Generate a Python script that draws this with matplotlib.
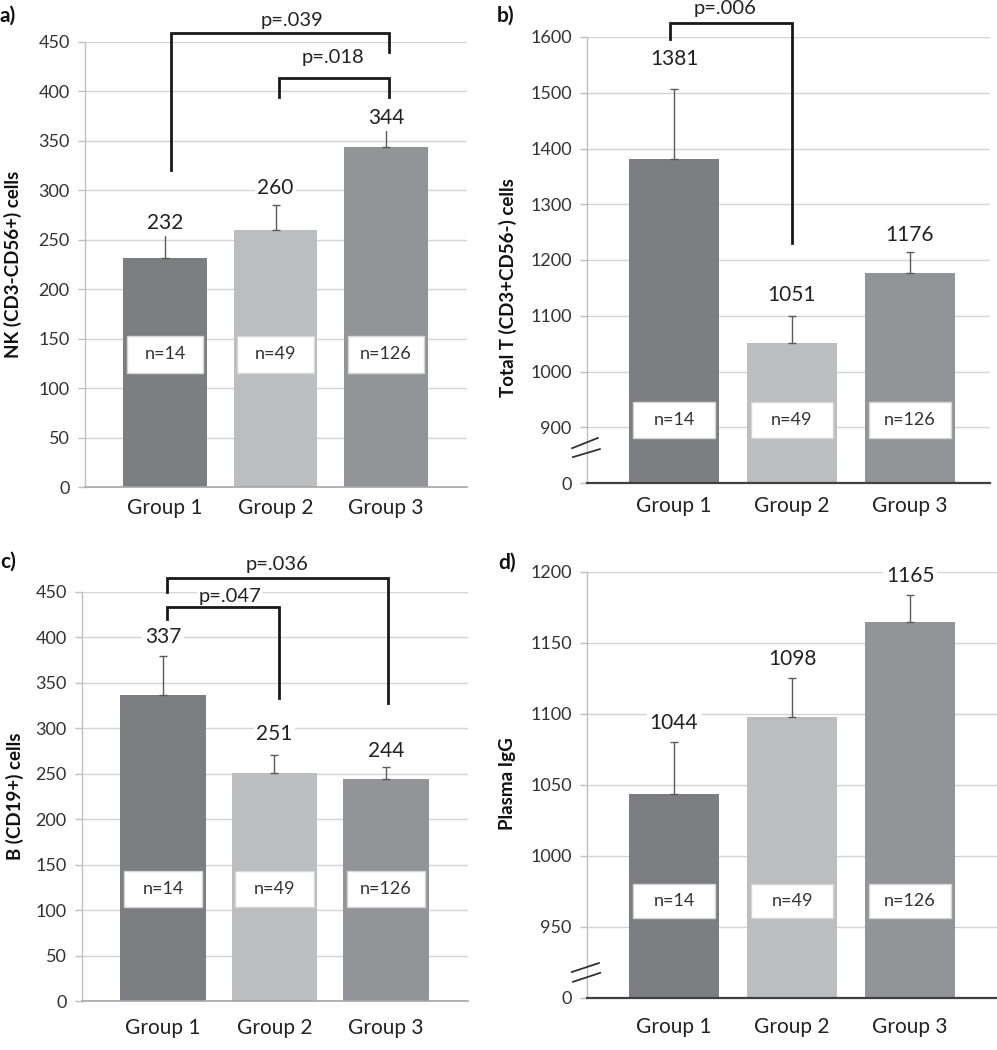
import matplotlib.pyplot as plt
from matplotlib.patches import Rectangle
from matplotlib.lines import Line2D

plt.rcParams['font.family'] = ['Lato', 'DejaVu Sans']

# Data
groups = ["Group 1", "Group 2", "Group 3"]
group_n = ["n=14", "n=49", "n=126"]
bar_colors = ["#7d7e82", "#bcbdbf", "#939498"]

nk_means = [232, 260, 344]
nk_err = [26, 25, 18]

t_means = [1381, 1051, 1176]
t_err = [126, 49, 39]

b_means = [337, 251, 244]
b_err = [43, 20, 13]

igg_means = [1044, 1098, 1165]
igg_err = [36, 27, 19]

W, H = 997, 1050


def fig_rect(x0, y0, x1, y1):
    # pixel box -> figure fraction [left, bottom, width, height]
    return [x0 / W, 1 - y1 / H, (x1 - x0) / W, (y1 - y0) / H]


def draw_panel(fig, p):
    ax = fig.add_axes(fig_rect(*p["box"]))
    x = [0, 1, 2]
    ax.set_axisbelow(True)
    ax.bar(x, p["means"], width=p["bar_w"], color=bar_colors, zorder=2)
    ax.errorbar(x, p["means"], yerr=[[0, 0, 0], p["err"]], fmt="none",
                ecolor="#5a5a5a", elinewidth=1, capsize=3, capthick=1, zorder=3)

    ax.set_xlim(*p["xlim"])
    ax.set_ylim(*p["ylim"])
    ax.set_yticks(p["ticks"])
    ax.set_yticklabels(p["ticklabels"])
    ax.yaxis.grid(True, color="#d4d4d4", lw=1)
    ax.set_xticks(x)
    ax.set_xticklabels(groups)

    for s in ["top", "right"]:
        ax.spines[s].set_visible(False)
    ax.spines["left"].set_color("#bfbfbf")
    ax.spines["left"].set_linewidth(1)
    ax.spines["bottom"].set_color(p["bottom_color"])
    ax.spines["bottom"].set_linewidth(p["bottom_lw"])

    ax.tick_params(axis="y", length=5, color="#bfbfbf", width=1,
                   labelsize=13, labelcolor="#333333", pad=6)
    ax.tick_params(axis="x", length=0, labelsize=15, labelcolor="#222222",
                   pad=p["xpad"])

    # value labels
    for xi, m, ly in zip(x, p["means"], p["label_y"]):
        ax.text(xi, ly, str(m), ha="center", va="center", fontsize=15,
                color="#222222", zorder=4,
                bbox=dict(fc="white", ec="none", pad=2))

    # n= boxes
    bw = p["bar_w"] - 0.07
    y0, y1 = p["nbox"]
    for xi, n in zip(x, group_n):
        ax.add_patch(Rectangle((xi - bw / 2, y0), bw, y1 - y0, fc="white",
                               ec="#d6d6d6", lw=1, zorder=4))
        ax.text(xi, (y0 + y1) / 2, n, ha="center", va="center", fontsize=13,
                color="#333333", zorder=5)

    # significance brackets
    for xl, xr, yt, yl, yr, lab, tx, ty in p["brackets"]:
        ax.plot([xl, xl, xr, xr], [yl, yt, yt, yr], color="#1a1a1a", lw=2,
                clip_on=False, solid_joinstyle="miter", zorder=5)
        ax.text(tx, ty, lab, ha="center", va="center", fontsize=14.5,
                color="#222222", clip_on=False, zorder=6,
                bbox=dict(fc="white", ec="none", pad=1))

    # axis break marks
    for (xa, ya, xb, yb) in p.get("break", []):
        ax.add_line(Line2D([xa, xb], [ya, yb], transform=ax.transAxes,
                           color="#333333", lw=1.3, clip_on=False, zorder=6))

    # y label and panel letter
    lx, ly = p["ylabel_pos"]
    fig.text(lx / W, 1 - ly / H, p["ylabel"], rotation=90, ha="center",
             va="center", fontsize=13.5, fontweight="bold", color="#111111")
    px, py = p["letter_pos"]
    fig.text(px / W, 1 - py / H, p["letter"], ha="left", va="center",
             fontsize=15, fontweight="bold", color="#111111")
    return ax


def main():
    fig = plt.figure(figsize=(W / 100, H / 100), dpi=100)

    panels = [
        dict(box=(85, 42, 467, 487), means=nk_means, err=nk_err, bar_w=0.76,
             xlim=(-0.724, 2.733), ylim=(0, 450),
             ticks=list(range(0, 451, 50)),
             ticklabels=[str(v) for v in range(0, 451, 50)],
             bottom_color="#a6a6a6", bottom_lw=1.2, xpad=8,
             label_y=[267, 302, 373], nbox=(115, 153),
             brackets=[(0.05, 2.03, 459, 321, 440, "p=.039", 1.15, 472),
                       (1.03, 2.03, 413.6, 394, 394, "p=.018", 1.52, 434)],
             ylabel="NK (CD3-CD56+) cells", ylabel_pos=(13, 264),
             letter="a)", letter_pos=(0, 16)),
        dict(box=(587, 37, 990, 483), means=t_means, err=t_err, bar_w=0.77,
             xlim=(-0.737, 2.678), ylim=(800, 1600),
             ticks=list(range(800, 1601, 100)),
             ticklabels=["0"] + [str(v) for v in range(900, 1601, 100)],
             bottom_color="#404040", bottom_lw=1.6, xpad=9,
             label_y=[1561, 1138, 1245], nbox=(880, 946),
             brackets=[(-0.03, 1.0, 1625, 1597, 1231, "p=.006", 0.43, 1651)],
             ylabel="Total T (CD3+CD56-) cells", ylabel_pos=(508, 288),
             letter="b)", letter_pos=(497, 16),
             **{"break": [(-0.037, 0.078, 0.027, 0.101),
                          (-0.035, 0.058, 0.032, 0.076)]}),
        dict(box=(82, 592, 468, 1001), means=b_means, err=b_err, bar_w=0.77,
             xlim=(-0.726, 2.735), ylim=(0, 450),
             ticks=list(range(0, 451, 50)),
             ticklabels=[str(v) for v in range(0, 451, 50)],
             bottom_color="#a6a6a6", bottom_lw=1.2, xpad=12,
             label_y=[400, 294, 275], nbox=(103, 143),
             brackets=[(0.04, 2.02, 465, 450, 328, "p=.036", 1.02, 480),
                       (0.04, 1.04, 433, 420, 333, "p=.047", 0.60, 445)],
             ylabel="B (CD19+) cells", ylabel_pos=(15, 796),
             letter="c)", letter_pos=(0, 562)),
        dict(box=(587, 572, 997, 998), means=igg_means, err=igg_err, bar_w=0.77,
             xlim=(-0.737, 2.737), ylim=(900, 1200),
             ticks=list(range(900, 1201, 50)),
             ticklabels=["0"] + [str(v) for v in range(950, 1201, 50)],
             bottom_color="#404040", bottom_lw=1.6, xpad=14,
             label_y=[1094, 1139, 1197], nbox=(956, 980),
             brackets=[],
             ylabel="Plasma IgG", ylabel_pos=(508, 784),
             letter="d)", letter_pos=(498, 563),
             **{"break": [(-0.037, 0.061, 0.029, 0.082),
                          (-0.034, 0.038, 0.032, 0.059)]}),
    ]

    for p in panels:
        draw_panel(fig, p)

    fig.savefig("out.png", dpi=100, facecolor="white")


if __name__ == "__main__":
    main()
